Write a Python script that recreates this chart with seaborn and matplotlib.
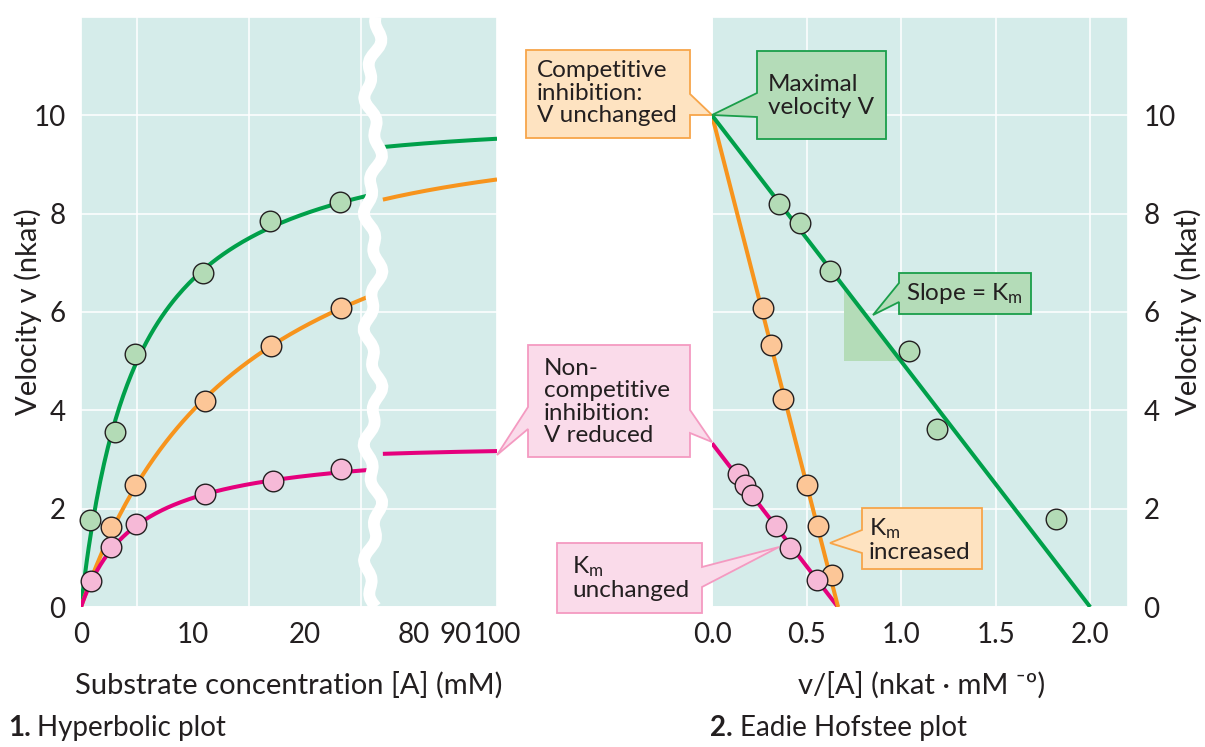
import numpy as np
import pandas as pd
import matplotlib.pyplot as plt
import matplotlib.transforms as mtransforms
from matplotlib.patches import Polygon
from matplotlib.lines import Line2D
import seaborn as sns

# values
series = ["uninhibited", "competitive", "noncompetitive"]
v_max = [10.0, 10.0, 3.33]   # nkat
k_m = [5.0, 15.0, 5.0]       # mM

# 1. hyperbolic plot, measured points ([A] in mM, v in nkat)
hyp_s_green = [0.8, 3.0, 4.8, 10.9, 16.9, 23.1]
hyp_v_green = [1.77, 3.56, 5.14, 6.79, 7.85, 8.23]
hyp_s_orange = [2.7, 4.8, 11.1, 17.0, 23.2]
hyp_v_orange = [1.63, 2.48, 4.19, 5.30, 6.09]
hyp_s_pink = [0.9, 2.7, 4.9, 11.1, 17.1, 23.2]
hyp_v_pink = [0.52, 1.23, 1.68, 2.30, 2.57, 2.80]

# 2. Eadie Hofstee plot, measured points (v/[A], v)
eh_x_green = [0.355, 0.465, 0.623, 1.04, 1.19, 1.82]
eh_v_green = [8.2, 7.82, 6.83, 5.2, 3.62, 1.78]
eh_x_orange = [0.268, 0.31, 0.376, 0.503, 0.561, 0.637]
eh_v_orange = [6.08, 5.32, 4.23, 2.49, 1.65, 0.65]
eh_x_pink = [0.136, 0.174, 0.213, 0.338, 0.412, 0.553]
eh_v_pink = [2.70, 2.48, 2.28, 1.65, 1.20, 0.54]

# the broken [A] axis: drawn pieces of the curves
hyp_pieces = [(0.0, 25.6), (72.5, 100.0)]
hyp_ticks = [0, 10, 20, 80, 90, 100]
hyp_grid = [5, 10, 15, 20, 25, 80, 90]
eh_ticks = [0.0, 0.5, 1.0, 1.5, 2.0]
v_ticks = [0, 2, 4, 6, 8, 10]

# v/[A] span of the shaded slope triangle
slope_x = [0.70, 1.0]

hyp_s = [hyp_s_green, hyp_s_orange, hyp_s_pink]
hyp_v = [hyp_v_green, hyp_v_orange, hyp_v_pink]
eh_x = [eh_x_green, eh_x_orange, eh_x_pink]
eh_v = [eh_v_green, eh_v_orange, eh_v_pink]

line_cols = ["#00a04a", "#f7941d", "#e5007d"]
fill_cols = ["#b3dbb6", "#fcc697", "#f6b9d7"]
ink = "#231f20"

sns.set_theme(style="darkgrid", rc={
    "axes.facecolor": "#d5ecea",
    "grid.color": "white",
    "grid.linewidth": 1.1,
    "text.color": ink,
    "axes.labelcolor": ink,
    "xtick.color": ink,
    "ytick.color": ink,
})
plt.rcParams["font.family"] = ["Lato", "DejaVu Sans"]

W, H = 1205, 747
fig = plt.figure(figsize=(W / 100, H / 100), dpi=100)
# picture pixels (origin top left) -> figure
px = mtransforms.Affine2D().scale(1 / W, -1 / H).translate(0, 1) + fig.transFigure

ax1 = fig.add_axes([81 / W, 1 - 607 / H, 416 / W, 590 / H])
ax2 = fig.add_axes([712 / W, 1 - 607 / H, 416 / W, 590 / H])


# squeezed axis between 26 and 72 mM
def fwd(x):
    x = np.asarray(x, float)
    return np.where(x <= 26, 11.2 * x,
                    np.where(x < 72, 291.2 + (x - 26) * (8.6 / 46), 299.8 + (x - 72) * 4.15))


def inv(u):
    u = np.asarray(u, float)
    return np.where(u <= 291.2, u / 11.2,
                    np.where(u < 299.8, 26 + (u - 291.2) * 46 / 8.6, 72 + (u - 299.8) / 4.15))


ax1.set_xscale("function", functions=(fwd, inv))

for i in range(3):
    V, K = v_max[i], k_m[i]
    for lo, hi in hyp_pieces:
        s = np.linspace(lo, hi, 150)
        df = pd.DataFrame({"s": s, "v": V * s / (K + s)})
        sns.lineplot(data=df, x="s", y="v", ax=ax1, color=line_cols[i], lw=2.9,
                     sort=False, estimator=None, zorder=3, solid_capstyle="butt")
    sns.scatterplot(x=hyp_s[i], y=hyp_v[i], ax=ax1, color=fill_cols[i], edgecolor=ink,
                    linewidth=1, s=220, zorder=4, clip_on=False, legend=False)

    df = pd.DataFrame({"x": [0, V / K], "v": [V, 0]})
    sns.lineplot(data=df, x="x", y="v", ax=ax2, color=line_cols[i], lw=2.9,
                 sort=False, estimator=None, zorder=3 - i * 0.1, solid_capstyle="butt")
    sns.scatterplot(x=eh_x[i], y=eh_v[i], ax=ax2, color=fill_cols[i], edgecolor=ink,
                    linewidth=1, s=220, zorder=4, clip_on=False, legend=False)

# slope triangle under the uninhibited line
ya = v_max[0] - k_m[0] * slope_x[0]
yb = v_max[0] - k_m[0] * slope_x[1]
ax2.fill([slope_x[0], slope_x[0], slope_x[1]], [ya, yb, yb], color="#b4dcb8", lw=0, zorder=1)

ax1.set_xlim(0, 100)
ax2.set_xlim(0, 2.2)
for ax in (ax1, ax2):
    ax.set_ylim(0, 12)
    ax.set_yticks(v_ticks)
    ax.set_xlabel("")
    ax.set_ylabel("")
    ax.tick_params(length=0, labelsize=20)
    ax.tick_params(axis="x", pad=11)
    ax.tick_params(axis="y", pad=11)
ax1.set_xticks(hyp_ticks)
ax1.set_xticklabels([str(t) for t in hyp_ticks])
ax1.set_xticks(hyp_grid, minor=True)
ax1.grid(False, axis="x", which="major")
ax1.grid(True, axis="x", which="minor", color="white", lw=1.1)
ax2.set_xticks(eh_ticks)
ax2.set_xticklabels([f"{t:.1f}" for t in eh_ticks])
ax2.yaxis.tick_right()

# white break squiggle
yy = np.linspace(17, 607, 140)
xx = 373 + 6 * np.sin(yy / 19.0) + 3.5 * np.sin(yy / 6.1 + 1.0)
fig.add_artist(Line2D(xx, yy, transform=px, color="white", lw=8.5, zorder=5,
                      solid_capstyle="butt"))

# callouts: box (x0, y0, x1, y1), pointers (side, notch top, notch bottom, tip x, tip y)
orange_box = ("#fee3c1", "#f7a54a")
green_box = ("#b4dcb8", "#1a9e4a")
pink_box = ("#fadbea", "#f49ac1")
callouts = [
    ((526, 50, 690, 138), orange_box, [("r", 94, 115, 712, 115)],
     "Competitive\ninhibition:\nV unchanged", 537, 93),
    ((757, 51, 886, 139), green_box, [("l", 93, 117, 712, 115)],
     "Maximal\nvelocity V", 768, 96),
    ((899, 273, 1031, 314), green_box, [("l", 283, 302, 873, 315)],
     r"Slope = $\mathregular{K_m}$", 906, 293),
    ((528, 345, 690, 457), pink_box, [("l", 407, 429, 497, 455), ("r", 410, 433, 712, 442)],
     "Non-\ncompetitive\ninhibition:\nV reduced", 544, 402),
    ((557, 543, 702, 613), pink_box, [("r", 567, 587, 779, 547)],
     r"$\mathregular{K_m}$" + "\nunchanged", 572, 578),
    ((862, 508, 982, 569), orange_box, [("l", 530, 553, 830, 543)],
     r"$\mathregular{K_m}$" + "\nincreased", 869, 540),
]
for box, (fc, ec), ptrs, txt, tx, ty in callouts:
    x0, y0, x1, y1 = box
    pts = [(x0, y0), (x1, y0)]
    for side, a, b, tipx, tipy in ptrs:
        if side == "r":
            pts += [(x1, a), (tipx, tipy), (x1, b)]
    pts += [(x1, y1), (x0, y1)]
    for side, a, b, tipx, tipy in ptrs:
        if side == "l":
            pts += [(x0, b), (tipx, tipy), (x0, a)]
    fig.add_artist(Polygon(pts, closed=True, transform=px, fc=fc, ec=ec, lw=1.3, zorder=6))
    fig.text(tx, ty, txt, transform=px, ha="left", va="center", fontsize=17.5,
             linespacing=1.08, zorder=7)

# axis titles and panel captions
fig.text(289, 685, "Substrate concentration [A] (mM)", transform=px, ha="center",
         va="center", fontsize=21)
fig.text(922, 685, "v/[A] (nkat · mM ⁻º)", transform=px, ha="center", va="center", fontsize=21)
fig.text(28, 312, "Velocity v (nkat)", transform=px, rotation=90, ha="center", va="center",
         fontsize=21)
fig.text(1188, 312, "Velocity v (nkat)", transform=px, rotation=90, ha="center", va="center",
         fontsize=21)
fig.text(8, 728, "1.", transform=px, ha="left", va="center", fontsize=20, weight="bold")
fig.text(37, 728, "Hyperbolic plot", transform=px, ha="left", va="center", fontsize=20)
fig.text(710, 728, "2.", transform=px, ha="left", va="center", fontsize=20, weight="bold")
fig.text(740, 728, "Eadie Hofstee plot", transform=px, ha="left", va="center", fontsize=20)

fig.savefig("out.png", dpi=100)
